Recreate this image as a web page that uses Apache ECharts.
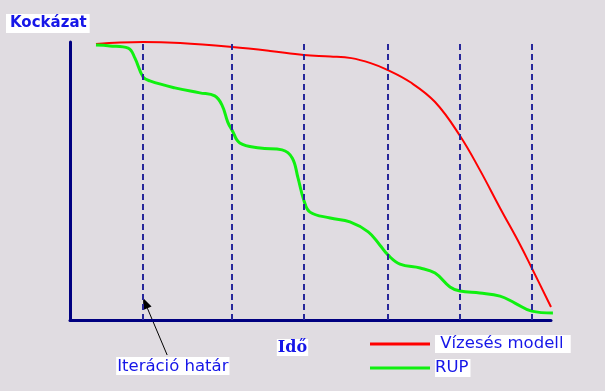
<!DOCTYPE html>
<html><head><meta charset="utf-8">
<script src="https://cdn.jsdelivr.net/npm/echarts@6/dist/echarts.min.js"></script>
<style>html,body{margin:0;padding:0;background:#e0dce1}#c{width:605px;height:391px}</style>
</head><body><div id="c"></div>
<script>
const yTitle = 'Kockázat';
const xTitle = 'Idő';
const iterLabel = 'Iteráció határ';
const seriesNames = [' Vízesés modell ', 'RUP'];
const iterationBounds = [15.2, 33.7, 48.6, 66.1, 81.1, 96.0];
const waterfall = [[5.4,99.3],[10.4,99.8],[15.2,100],[22.9,99.6],[33.7,98.2],[41.6,96.8],[48.6,95.3],[54.1,94.8],[58.5,94.2],[62.5,92.4],[66.1,89.9],[70.7,85.6],[75.9,78.4],[81.1,66.2],[85.2,54.0],[89.4,40.3],[93.6,27.0],[96.0,18.7],[100,4.7]];
const rup = [[5.4,98.9],[8.3,98.6],[12.1,97.8],[13.5,94.2],[15.2,87.4],[16.6,86.0],[21.8,83.5],[27.0,81.7],[30.1,80.6],[31.6,77.3],[32.8,71.2],[33.7,68.3],[35.3,63.7],[39.5,61.9],[44.1,61.2],[46.2,58.3],[47.4,51.1],[48.6,43.2],[49.9,38.8],[54.1,36.7],[58.2,35.3],[62.0,31.7],[64.4,27.0],[66.1,23.4],[68.6,20.1],[72.8,18.7],[75.9,16.9],[79.0,11.9],[81.1,10.4],[85.2,9.7],[89.4,8.6],[92.5,6.1],[96.0,3.2],[100.4,2.5]];
const arrowTail = [20.2, -12.6];
const arrowHead = [15.2, 7.9];
const xTitlePos = [43.0, -6.8];

const chart = echarts.init(document.getElementById('c'));
const blue = '#1616e8';
const axisStyle = {show:true, lineStyle:{color:'#000080', width:3}};
chart.setOption({
  backgroundColor:'#e0dce1',
  animation:false,
  grid:{left:70, right:54, top:42, bottom:71},
  xAxis:{type:'value', min:0, max:100, axisLine:axisStyle, axisTick:{show:false}, axisLabel:{show:false}, splitLine:{show:false}},
  yAxis:{type:'value', min:0, max:100, axisLine:axisStyle, axisTick:{show:false}, axisLabel:{show:false}, splitLine:{show:false}},
  title:{text:yTitle, left:6, top:14, padding:[2,3,2,4], backgroundColor:'#fff',
    textStyle:{fontFamily:'DejaVu Sans', fontWeight:'bold', fontSize:15, color:blue}},
  legend:{orient:'vertical', left:370, top:335, padding:0, itemWidth:60, itemHeight:3, itemGap:6, icon:'rect',
    textStyle:{fontFamily:'DejaVu Sans', fontSize:16.5, color:blue, backgroundColor:'#fff', padding:[1,2,0,0]},
    data:seriesNames},
  series:[
    {name:seriesNames[0], type:'line', smooth:0.4, showSymbol:false, data:waterfall, color:'#ff0000', lineStyle:{width:2, color:'#ff0000'}, z:3,
     markLine:{silent:true, symbol:'none', label:{show:false}, lineStyle:{type:[6,4], color:'#27279a', width:2},
       data:iterationBounds.map(v=>({xAxis:v}))}},
    {name:seriesNames[1], type:'line', smooth:0.4, showSymbol:false, data:rup, color:'#10f010', lineStyle:{width:3, color:'#10f010'}, z:4, clip:false}
  ]
});
const t = chart.convertToPixel({gridIndex:0}, arrowTail);
const h = chart.convertToPixel({gridIndex:0}, arrowHead);
const xt = chart.convertToPixel({gridIndex:0}, xTitlePos);
const ang = Math.atan2(h[1]-t[1], h[0]-t[0]);
const L = 11, W = 4.5;
const bx = h[0]-L*Math.cos(ang), by = h[1]-L*Math.sin(ang);
chart.setOption({graphic:[
  {type:'line', shape:{x1:t[0], y1:t[1], x2:bx, y2:by}, style:{stroke:'#000', lineWidth:1}},
  {type:'polygon', shape:{points:[[h[0],h[1]],[bx+W*Math.sin(ang), by-W*Math.cos(ang)],[bx-W*Math.sin(ang), by+W*Math.cos(ang)]]}, style:{fill:'#000'}},
  {type:'text', x:t[0]-51, y:t[1]+2, style:{text:iterLabel, font:'16.5px DejaVu Sans', fill:blue, backgroundColor:'#fff', padding:[1,1,0,1]}},
  {type:'text', x:xt[0], y:xt[1], style:{text:xTitle, font:'bold 16px DejaVu Serif', fill:blue, backgroundColor:'#fff', padding:[1,1,0,1]}}
]});
</script></body></html>
